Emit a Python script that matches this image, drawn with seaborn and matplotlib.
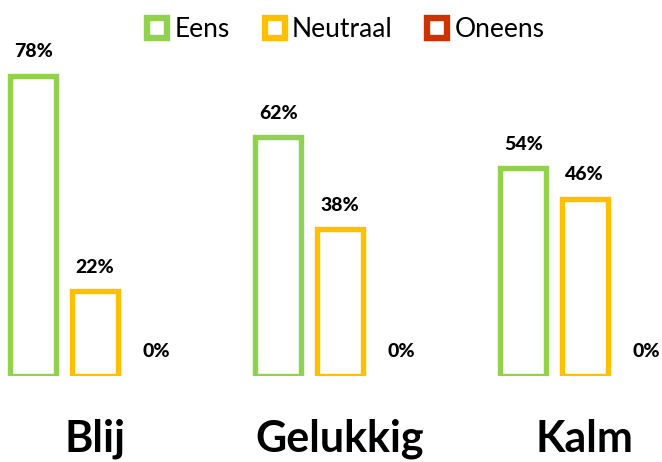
import pandas as pd
import matplotlib.pyplot as plt
import seaborn as sns
from matplotlib.lines import Line2D

categories = ['Blij', 'Gelukkig', 'Kalm']
series = ['Eens', 'Neutraal', 'Oneens']
eens = [78, 62, 54]
neutraal = [22, 38, 46]
oneens = [0, 0, 0]
colors = ['#92D050', '#FFC000', '#CC3300']

df = pd.DataFrame({
    'categorie': categories * 3,
    'antwoord': ['Eens'] * 3 + ['Neutraal'] * 3 + ['Oneens'] * 3,
    'pct': eens + neutraal + oneens,
})

sns.set_style('white')
plt.rcParams['font.family'] = ['Lato', 'DejaVu Sans']

fig = plt.figure(figsize=(6.62, 4.62), dpi=100)
ax = fig.add_axes([0, 0.1872, 1, 0.666])

sns.barplot(data=df, x='categorie', y='pct', hue='antwoord', hue_order=series,
            palette=colors, fill=False, linewidth=3.9, width=0.75, gap=0.25,
            legend=False, ax=ax)

# no outline for empty bars
for p in ax.patches:
    if p.get_height() == 0:
        p.set_linewidth(0)

for c in ax.containers:
    ax.bar_label(c, labels=[f'{v:.0f}%' for v in c.datavalues], padding=11,
                 fontsize=14, fontweight='black', color='black')

ax.set_xlim(-0.386, 2.316)
ax.set_ylim(0, 80)
ax.set_xlabel('')
ax.set_ylabel('')
ax.set_yticks([])
ax.tick_params(axis='x', length=0, pad=31, labelsize=31, labelcolor='black')
for t in ax.get_xticklabels():
    t.set_fontweight('bold')
sns.despine(ax=ax, left=True, bottom=True)

handles = [Line2D([], [], linestyle='none', marker='s', markersize=14,
                  markerfacecolor='white', markeredgecolor=col, markeredgewidth=4.6)
           for col in colors]
fig.legend(handles, series, loc='upper center', bbox_to_anchor=(0.52, 1.015), ncol=3,
           frameon=False, fontsize=19, handletextpad=0.15, columnspacing=1.2,
           handlelength=1.0, labelcolor='black')

fig.savefig('out.png', dpi=100)
